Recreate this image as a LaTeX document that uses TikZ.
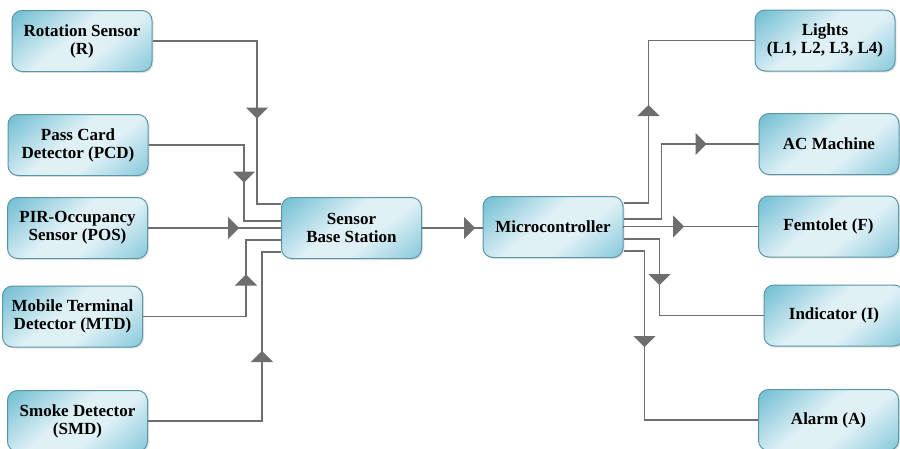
\documentclass[tikz,border=0pt]{standalone}
\usepackage{fontspec}
\setmainfont{Liberation Serif}
\usetikzlibrary{arrows.meta,calc,decorations.markings,shadows}

\definecolor{boxedge}{HTML}{5A96A5}
\definecolor{boxdark}{HTML}{7AC2D5}
\definecolor{boxlight}{HTML}{E0F1F6}
\definecolor{boxright}{HTML}{8ACADC}
\definecolor{wire}{HTML}{6E6E6E}

% diagonal fill of the blocks: teal corners, pale centre
\pgfdeclarehorizontalshading{blockfill}{100bp}{%
  color(0bp)=(boxdark); color(18bp)=(boxdark); color(45bp)=(boxlight);
  color(60bp)=(boxlight); color(84bp)=(boxright); color(100bp)=(boxright)}

\tikzset{
  block/.style={draw=boxedge, line width=1pt, rounded corners=10pt,
    minimum width=140pt, minimum height=61pt, inner sep=0pt, align=center,
    shading=blockfill, shading angle=-50,
    drop shadow={opacity=0.2, shadow xshift=1.5pt, shadow yshift=-1.5pt},
    font=\fontsize{17}{18}\selectfont\bfseries},
  wire/.style={draw=wire, line width=1.1pt},
  % filled triangle placed along a connector, tip at the given distance
  tri/.style={postaction={decorate}, decoration={markings,
    mark=at position #1 with {\arrow[wire]{Triangle[width=22pt,length=11pt]}}}}
}

\begin{document}
\begin{tikzpicture}[x=1pt,y=-1pt]
\clip (0,0) rectangle (900,448);
\fill[white] (0,0) rectangle (900,448);

% sensors
\node[block] (R)   at (82,41)    {Rotation Sensor\\(R)};
\node[block] (PCD) at (78,145)   {Pass Card\\Detector (PCD)};
\node[block] (POS) at (77.5,228) {PIR-Occupancy\\Sensor (POS)};
\node[block] (MTD) at (72.5,316.5) {Mobile Terminal\\Detector (MTD)};
\node[block] (SMD) at (77.5,421) {Smoke Detector\\(SMD)};

% central blocks
\node[block] (SBS) at (351.5,228) {Sensor\\Base Station};
\node[block] (MC)  at (553,227)   {Microcontroller};

% actuators
\node[block] (L)  at (825,40.5)  {Lights\\(L1, L2, L3, L4)};
\node[block] (AC) at (829,144)   {AC Machine};
\node[block] (F)  at (828.5,226.5) {Femtolet (F)};
\node[block] (I)  at (834,315.5) {Indicator (I)};
\node[block] (A)  at (828.5,420) {Alarm (A)};

% sensor inputs to the base station
\draw[wire, tri=182pt] (R.east) -| ($(SBS.west)+(-24,-24)$) -- ++(24,0);
\draw[wire, tri=133pt] (PCD.east) -| ($(SBS.west)+(-37,-7)$) -- ++(37,0);
\draw[wire, tri=91pt]  (POS.east) -- (SBS.west);
\draw[wire, tri=145pt] (MTD.east) -| ($(SBS.west)+(-35,12)$) -- ++(35,0);
\draw[wire, tri=184pt] (SMD.east) -| ($(SBS.west)+(-19,24)$) -- ++(19,0);

% base station to microcontroller
\draw[wire, tri=53pt] (SBS.east) -- (SBS.east -| MC.west);

% microcontroller outputs
\draw[wire, tri=123pt] ([yshift=24pt]MC.east) -- ++(25,0) |- (L.west);
\draw[wire, tri=158pt] ([yshift=8pt]MC.east) -- ++(38,0) |- (AC.west);
\draw[wire, tri=62pt]  ([yshift=-1pt]MC.east) -- (MC.east |- F.west) -- (F.west);
\draw[wire, tri=82pt]  ([yshift=-12pt]MC.east) -- ++(36,0) |- (I.west);
\draw[wire, tri=117pt] ([yshift=-24pt]MC.east) -- ++(21,0) |- (A.west);
\end{tikzpicture}
\end{document}
